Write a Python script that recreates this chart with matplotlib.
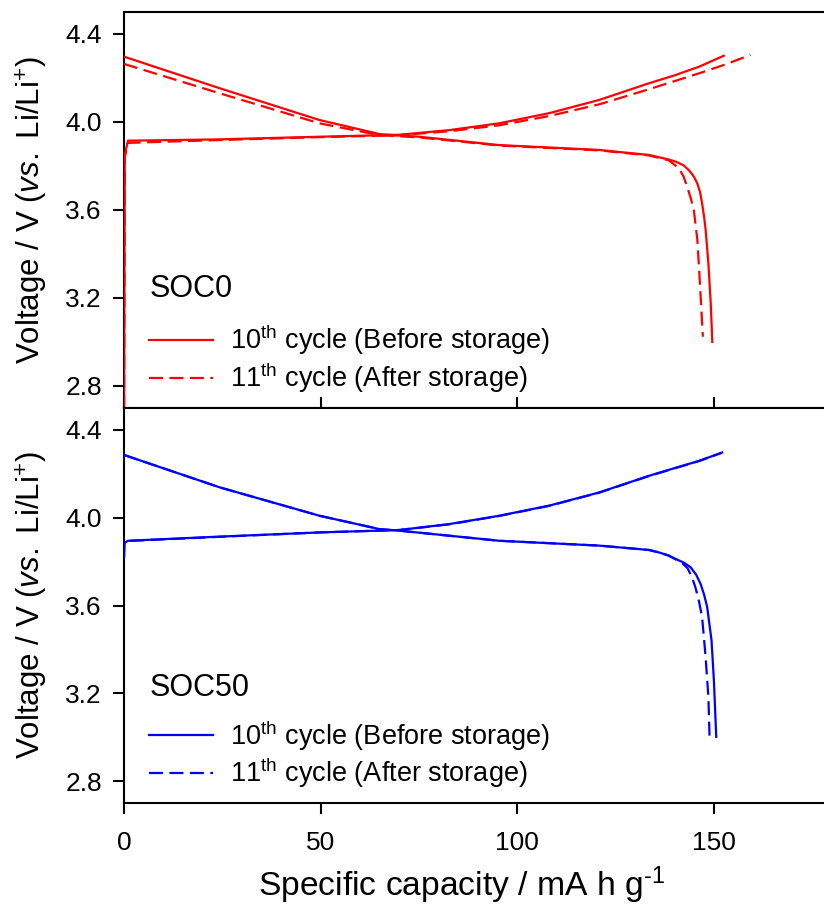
import matplotlib
matplotlib.use("Agg")
import matplotlib.pyplot as plt
from matplotlib.lines import Line2D

plt.rcParams['font.family'] = ['Liberation Sans', 'DejaVu Sans']
plt.rcParams['mathtext.fontset'] = 'custom'
plt.rcParams['mathtext.rm'] = 'Liberation Sans'
plt.rcParams['mathtext.it'] = 'Liberation Sans:italic'

# ---- SOC0 (top panel) ----
soc0_chg10_x = [0, 0.2, 1.0, 24.4, 49.7, 70, 82.7, 95.4, 108.1, 120.8, 133.5, 140, 146.2, 152.5]
soc0_chg10_y = [2.60, 3.85, 3.915, 3.921, 3.933, 3.942, 3.963, 3.994, 4.040, 4.100, 4.176, 4.212, 4.251, 4.301]
soc0_chg11_x = [0, 0.2, 1.0, 24.4, 49.7, 70, 82.7, 95.4, 108.1, 120.8, 133.5, 146.2, 153, 159.3]
soc0_chg11_y = [2.60, 3.84, 3.905, 3.918, 3.931, 3.940, 3.958, 3.985, 4.027, 4.080, 4.149, 4.221, 4.262, 4.305]
soc0_dis10_x = [0, 24.4, 49.7, 65, 75, 95.4, 120.8, 133.5, 138, 140.3, 142.3, 143.7, 144.9, 145.8, 146.5,
                147.0, 147.5, 147.9, 148.6, 149.2, 149.6]
soc0_dis10_y = [4.297, 4.153, 4.009, 3.945, 3.933, 3.895, 3.873, 3.850, 3.832, 3.820, 3.803, 3.780, 3.752, 3.720, 3.680,
                3.630, 3.570, 3.510, 3.358, 3.176, 3.000]
soc0_dis11_x = [0, 24.4, 49.7, 65, 75, 95.4, 120.8, 133.5, 138.5, 141.1, 142.3, 143.2, 144.1, 144.9, 145.8,
                146.4, 147.2]
soc0_dis11_y = [4.264, 4.130, 3.994, 3.940, 3.930, 3.893, 3.871, 3.848, 3.826, 3.790, 3.752, 3.706, 3.655, 3.600, 3.464,
                3.282, 3.024]

# ---- SOC50 (bottom panel) ----
soc50_chg10_x = [0, 0.1, 1.0, 24.4, 49.7, 70, 82.7, 95.4, 108.1, 120.8, 133.5, 140, 146.2, 152.1]
soc50_chg10_y = [3.82, 3.885, 3.895, 3.914, 3.933, 3.944, 3.971, 4.009, 4.055, 4.115, 4.191, 4.226, 4.259, 4.297]
soc50_chg11_x = [0, 0.1, 1.0, 24.4, 49.7, 70, 82.7, 95.4, 108.1, 120.8, 133.5, 140, 146.2, 152.0]
soc50_chg11_y = [3.82, 3.884, 3.894, 3.913, 3.933, 3.944, 3.970, 4.008, 4.054, 4.114, 4.190, 4.225, 4.258, 4.296]
soc50_dis10_x = [0, 24.4, 49.7, 65, 70, 95.4, 120.8, 133.5, 136, 138.5, 140.3, 142.4, 144.1, 145.5, 146.6,
                 147.5, 148.3, 149.4, 150.0, 150.6]
soc50_dis10_y = [4.286, 4.138, 4.009, 3.948, 3.941, 3.895, 3.873, 3.853, 3.842, 3.828, 3.812, 3.795, 3.774, 3.740, 3.699,
                 3.650, 3.592, 3.441, 3.259, 3.001]
soc50_dis11_x = [0, 24.4, 49.7, 65, 70, 95.4, 120.8, 133.5, 136, 138.5, 140.3, 142.0, 143.3, 144.4, 145.3,
                 146.2, 147.0, 147.9, 148.6, 148.9]
soc50_dis11_y = [4.286, 4.138, 4.009, 3.948, 3.941, 3.895, 3.873, 3.853, 3.842, 3.827, 3.810, 3.792, 3.770, 3.730, 3.683,
                 3.620, 3.547, 3.365, 3.183, 3.001]

yticks = [2.8, 3.2, 3.6, 4.0, 4.4]
xticks = [0, 50, 100, 150]
legend_labels = [r'10$^{\mathregular{th}}$ cycle (Before storage)',
                 r'11$^{\mathregular{th}}$ cycle (After storage)']

fig = plt.figure(figsize=(8.24, 9.15), dpi=100)
ax1 = fig.add_axes([0.1505, 0.5541, 0.8495, 0.4328])
ax2 = fig.add_axes([0.1505, 0.1224, 0.8495, 0.4317])

lw = 1.6
dash = (6.3, 2.9)


def draw_panel(ax, color, chg10, chg11, dis10, dis11, name, name_y):
    ax.plot(chg10[0], chg10[1], color=color, lw=lw, zorder=3)
    ax.plot(dis10[0], dis10[1], color=color, lw=lw, zorder=3)
    ax.plot(chg11[0], chg11[1], color=color, lw=lw, ls=(0, dash), zorder=3)
    ax.plot(dis11[0], dis11[1], color=color, lw=lw, ls=(0, dash), zorder=3)
    ax.set_xlim(0, 178)
    ax.set_ylim(2.7, 4.5)
    ax.set_yticks(yticks)
    ax.set_yticklabels(["%.1f" % v for v in yticks])
    ax.set_xticks(xticks)
    for s in ['left', 'top', 'bottom']:
        ax.spines[s].set_linewidth(1.5)
    ax.spines['right'].set_visible(False)
    ax.tick_params(axis='y', direction='out', length=8, width=1.5, labelsize=19, pad=8)
    ax.set_ylabel(r'Voltage / V ($\mathit{vs.}$ Li/Li$^{\mathregular{+}}$)', fontsize=22.5, labelpad=11)
    ax.text(0.037, name_y, name, transform=ax.transAxes, fontsize=22, va='center', ha='left')
    handles = [Line2D([], [], color=color, lw=lw),
               Line2D([], [], color=color, lw=lw, ls=(0, dash))]
    ax.legend(handles, legend_labels, loc='upper left', bbox_to_anchor=(0.036, 0.215),
              frameon=False, fontsize=19.5, handlelength=2.35, handletextpad=0.62,
              labelspacing=0.12, borderaxespad=0.0, borderpad=0.0)


draw_panel(ax1, '#ff0000', (soc0_chg10_x, soc0_chg10_y), (soc0_chg11_x, soc0_chg11_y),
           (soc0_dis10_x, soc0_dis10_y), (soc0_dis11_x, soc0_dis11_y), 'SOC0', 0.30)
draw_panel(ax2, '#0000ff', (soc50_chg10_x, soc50_chg10_y), (soc50_chg11_x, soc50_chg11_y),
           (soc50_dis10_x, soc50_dis10_y), (soc50_dis11_x, soc50_dis11_y), 'SOC50', 0.29)

ax1.tick_params(axis='x', direction='in', length=8, width=1.5, labelbottom=False)
ax2.tick_params(axis='x', direction='out', length=8, width=1.5, labelsize=19, pad=12)
ax2.set_xlabel(r'Specific capacity / mA h g$^{\text{-1}}$', fontsize=24.2, labelpad=7)
ax2.xaxis.label.set_x(0.482)

fig.savefig('out.png', dpi=100)
